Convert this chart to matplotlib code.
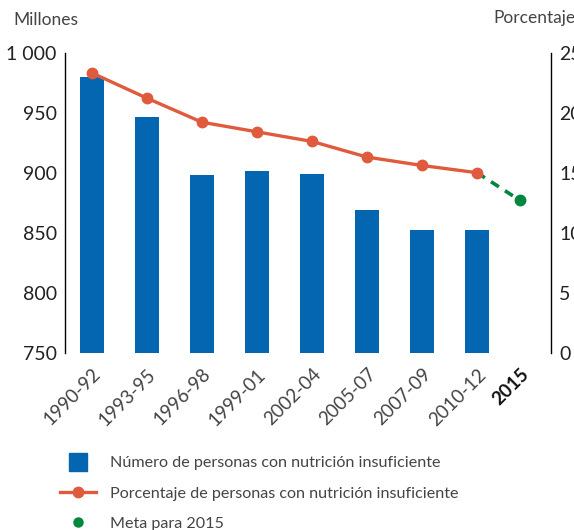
import numpy as np
import matplotlib
matplotlib.use('Agg')
import matplotlib.pyplot as plt
from matplotlib.lines import Line2D

plt.rcParams['font.family'] = ['Lato', 'DejaVu Sans']

# Data
periods = ['1990-92', '1993-95', '1996-98', '1999-01', '2002-04', '2005-07', '2007-09', '2010-12']
goal_label = '2015'
millions = [980, 946, 898, 901, 899, 869, 852, 852]
percent = [23.3, 21.2, 19.2, 18.4, 17.6, 16.3, 15.6, 15.0]
goal_percent = 12.7

blue = '#0466B0'
red = '#E05A3E'
green = '#00873E'
text_gray = '#444444'

fig = plt.figure(figsize=(5.74, 5.30), dpi=100)
fig.patch.set_facecolor('white')
ax1 = fig.add_axes([65 / 574, 1 - 353 / 530, 486 / 574, 300.5 / 530])

x = np.arange(len(periods))
x_goal = x[-1] + 0.78

# Bars on the left axis
ax1.bar(x, millions, width=0.44, color=blue, zorder=2)
ax1.set_ylim(750, 1000)
ax1.set_xlim(-0.49, x[-1] + 1.345)
ax1.set_yticks([750, 800, 850, 900, 950, 1000])
ax1.set_yticklabels(['750', '800', '850', '900', '950', '1 000'])

# Percentage on the right axis
ax2 = ax1.twinx()
ax2.plot([x[-1], x_goal], [percent[-1], goal_percent], color=green, lw=2.6,
         linestyle=(0, (2.6, 2.0)), zorder=2)
ax2.plot(x_goal, goal_percent, 'o', color=green, ms=7.5, zorder=3)
ax2.plot(x, percent, color=red, lw=2.4, marker='o', ms=7.5, zorder=4)
ax2.set_ylim(0, 25)
ax2.set_yticks([0, 5, 10, 15, 20, 25])

for ax in (ax1, ax2):
    for s in ['top', 'bottom']:
        ax.spines[s].set_visible(False)
    ax.tick_params(length=0, labelsize=14, labelcolor='#222222', pad=6)
ax1.spines['right'].set_visible(False)
ax1.spines['left'].set_linewidth(1.0)
ax2.spines['left'].set_visible(False)
ax2.spines['right'].set_linewidth(1.0)

ax1.set_xticks(list(x) + [x_goal])
ax1.set_xticklabels(periods + [goal_label], rotation=45, ha='right',
                    rotation_mode='anchor', fontsize=13.5, color=text_gray)
ax1.tick_params(axis='x', pad=9)
lab = ax1.get_xticklabels()[-1]
lab.set_fontweight('bold')
lab.set_color('#111111')

fig.text(13 / 574, 1 - 20 / 530, 'Millones', fontsize=12.5, color=text_gray,
         ha='left', va='center')
fig.text(493 / 574, 1 - 18 / 530, 'Porcentaje', fontsize=12.5, color=text_gray,
         ha='left', va='center')

handles = [
    Line2D([], [], marker='s', ms=13, color=blue, linestyle='none'),
    Line2D([], [], marker='o', ms=7.5, color=red, lw=2.4),
    Line2D([], [], marker='o', ms=6.5, color=green, linestyle='none'),
]
labels = ['Número de personas con nutrición insuficiente',
          'Porcentaje de personas con nutrición insuficiente',
          'Meta para 2015']
leg = fig.legend(handles, labels, loc='upper left', bbox_to_anchor=(60 / 574, 1 - 456 / 530),
                 frameon=False, fontsize=11.6, handlelength=2.25, handletextpad=0.85,
                 labelspacing=1.0, borderaxespad=0, borderpad=0)
for t in leg.get_texts():
    t.set_color(text_gray)

fig.savefig('out.png', dpi=100, facecolor='white')
